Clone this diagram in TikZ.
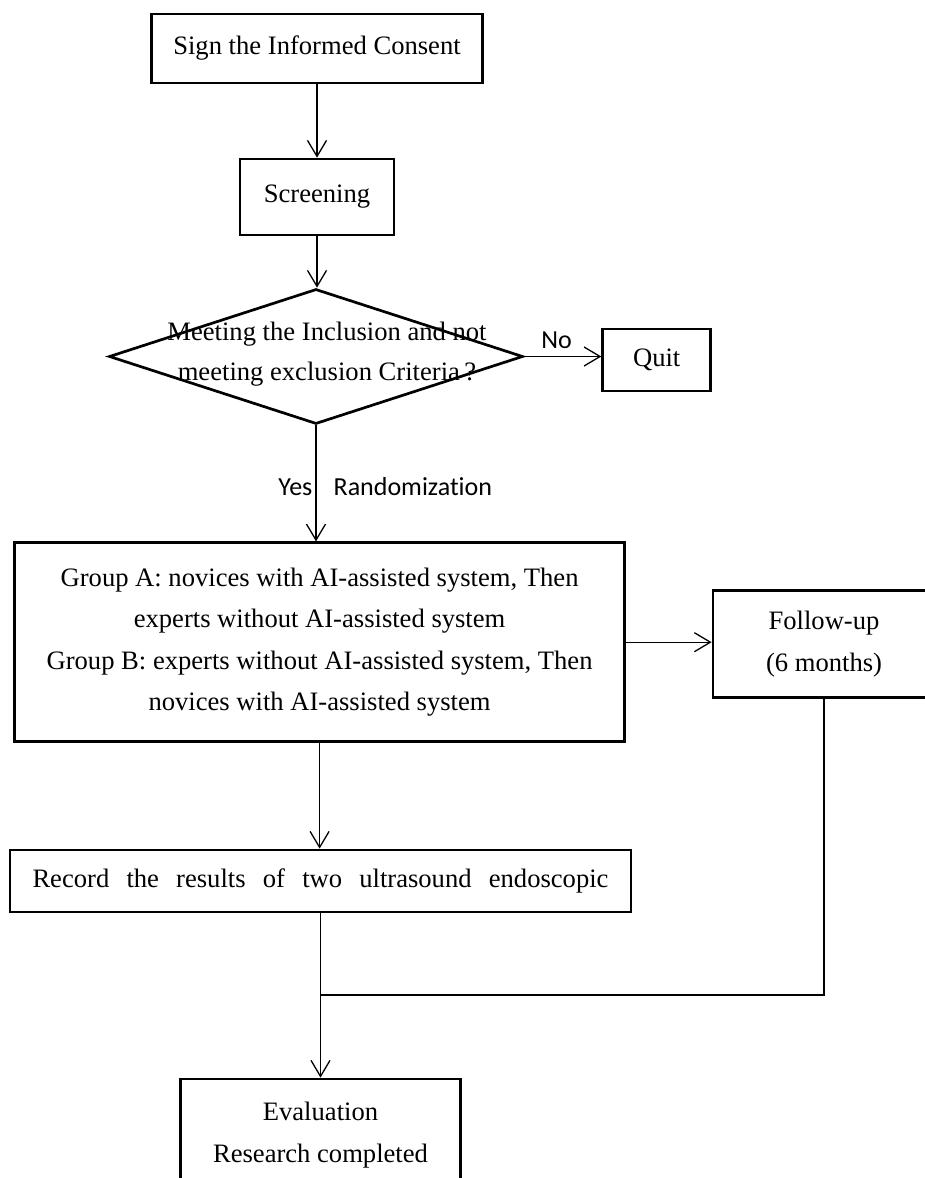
\documentclass[tikz,border=0pt]{standalone}
\usepackage{fontspec}
\setmainfont{Liberation Serif}
\newfontfamily\labelfont[Ligatures=NoCommon]{Carlito}
\usetikzlibrary{shapes.geometric,arrows.meta}
\tikzset{
  stepbox/.style={draw, line width=2.7pt, rectangle, inner sep=0pt, align=center,
    font=\fontsize{26.6pt}{41.5pt}\selectfont},
  decision/.style={draw, line width=2.7pt, diamond, inner sep=0pt,
    minimum width=414pt, minimum height=135pt},
  steptext/.style={align=center, inner sep=0pt, font=\fontsize{26.6pt}{40pt}\selectfont},
  flow/.style={line width=1.3pt, -{Straight Barb[length=16pt,width=19pt,line width=1.3pt]}},
  link/.style={line width=1.3pt},
  lbl/.style={font=\labelfont\fontsize{26pt}{30pt}\selectfont, inner sep=3pt}
}
\begin{document}
\begin{tikzpicture}[x=1pt,y=-1pt]
\useasboundingbox (0,0) rectangle (924,1178);
% steps
\node (consent) [stepbox, minimum width=331pt, minimum height=69pt] at (317,48.5) {Sign the Informed Consent};
\node (screen) [stepbox, minimum width=154pt, minimum height=76pt] at (317,197) {Screening};
\node (check) [decision] at (316,356.5) {};
\node (checktext) [steptext] at (327,354) {Meeting the Inclusion and not\\meeting exclusion Criteria\,?};
\node (quit) [stepbox, minimum width=108pt, minimum height=62pt] at (656.7,360) {Quit};
\node (groups) [stepbox, minimum width=610pt, minimum height=199pt] at (319.6,642.2)
	{Group A: novices with AI-assisted system, Then\\experts without AI-assisted system\\Group B: experts without AI-assisted system, Then\\novices with AI-assisted system};
\node (follow) [stepbox, minimum width=222pt, minimum height=107pt] at (824,644) {Follow-up\\(6 months)};
\node (record) [stepbox, minimum width=621pt, minimum height=62pt] at (320.5,881)
	{\makebox[576pt][s]{Record the results of two ultrasound endoscopic}};
\node (eval) [stepbox, minimum width=280pt, minimum height=112pt] at (320.5,1135) {Evaluation\\Research completed};
\coordinate (merge) at (320.5,995);
% connectors
\draw [flow] (consent.south) -- (consent.south |- screen.north);
\draw [flow] (screen.south) -- (screen.south |- check.north);
\draw [flow] (check.east) -- node (no) [lbl, above=4pt, pos=0.42] {No} (check.east -| quit.west);
\draw [flow] (check.south) -- node (yes) [lbl, left, pos=0.53] {Yes}
	node (random) [lbl, right=14pt, pos=0.53] {Randomization} (check.south |- groups.north);
\draw [flow] (groups.east) -- (groups.east -| follow.west);
\draw [flow] (groups.south) -- (groups.south |- record.north);
\draw [flow] (record.south) -- (eval.north);
\draw [link] (follow.south) |- (merge);
\end{tikzpicture}
\end{document}
